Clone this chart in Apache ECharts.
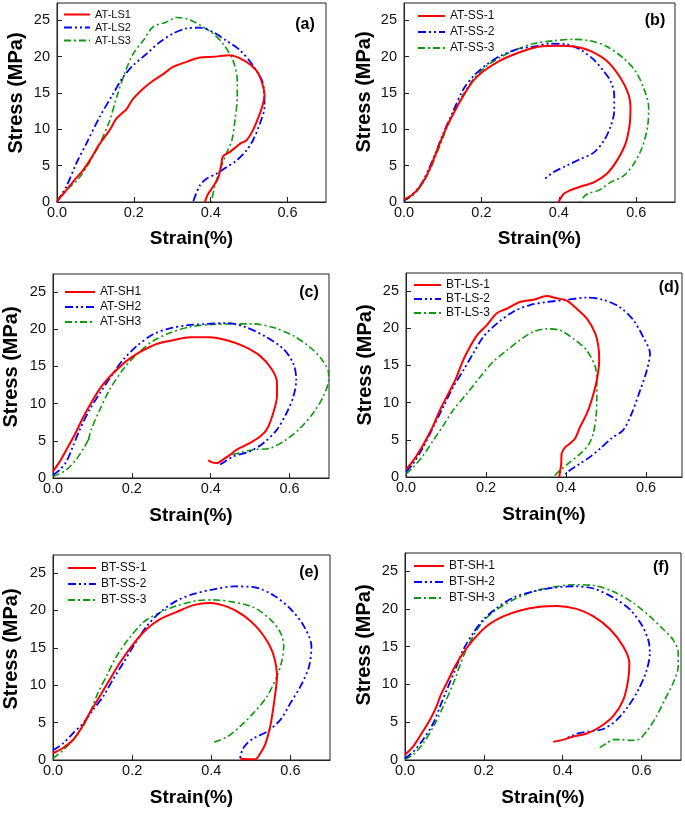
<!DOCTYPE html>
<html><head><meta charset="utf-8">
<script src="https://cdn.jsdelivr.net/npm/echarts@6/dist/echarts.min.js"></script>
<style>html,body{margin:0;padding:0;background:#fff}#c{width:685px;height:814px}</style>
</head><body><div id="c"></div>
<script>
// ---- panel (a)
const namesA = ['AT-LS1','AT-LS2','AT-LS3'];
const atLs1 = [[0,0],[0.003,0.3],[0.016,1.1],[0.042,2.8],[0.068,4.4],[0.085,5.7],[0.111,8.0],[0.137,9.9],[0.155,11.5],[0.181,12.8],[0.198,14.2],[0.224,15.6],[0.25,16.7],[0.276,17.6],[0.302,18.6],[0.337,19.3],[0.372,19.9],[0.406,20.0],[0.45,20.2],[0.493,19.3],[0.519,18.1],[0.532,16.7],[0.54,14.7],[0.536,13.5],[0.528,12.2],[0.51,9.9],[0.493,8.5],[0.476,8.0],[0.45,6.9],[0.432,6.3],[0.428,5.3],[0.42,3.4],[0.406,2.1],[0.393,1.1],[0.385,0]];
const atLs2 = [[0,0],[0.024,2.1],[0.05,5.3],[0.076,8.0],[0.111,11.7],[0.146,14.9],[0.172,17.2],[0.198,18.8],[0.233,20.4],[0.267,22.0],[0.302,23.2],[0.337,23.9],[0.372,24.0],[0.406,23.4],[0.441,22.2],[0.476,20.9],[0.51,18.8],[0.536,16.3],[0.54,13.1],[0.528,10.8],[0.51,8.5],[0.493,7.1],[0.467,5.7],[0.441,4.8],[0.415,3.9],[0.389,3.2],[0.372,2.3],[0.354,0]];
const atLs3 = [[0,0.3],[0.024,1.6],[0.059,3.4],[0.085,5.5],[0.111,8.0],[0.137,11.2],[0.155,14.4],[0.176,17.7],[0.198,20.4],[0.224,22.2],[0.25,24.1],[0.285,24.8],[0.311,25.4],[0.345,25.1],[0.38,24.1],[0.406,23.2],[0.432,21.8],[0.458,19.5],[0.469,16.7],[0.469,14.4],[0.463,11.2],[0.455,8.5],[0.441,6.7],[0.424,4.4],[0.41,2.1],[0.402,0]];
// ---- panel (b)
const namesB = ['AT-SS-1','AT-SS-2','AT-SS-3'];
const atSs1 = [[0,0.4],[0.019,0.9],[0.041,2.1],[0.058,3.6],[0.075,5.7],[0.092,8.0],[0.11,10.3],[0.131,12.5],[0.153,14.6],[0.179,16.7],[0.205,18.0],[0.239,19.2],[0.274,20.1],[0.308,20.8],[0.351,21.4],[0.395,21.5],[0.438,21.4],[0.481,20.8],[0.524,19.4],[0.559,17.1],[0.58,14.8],[0.585,13.0],[0.583,10.7],[0.572,8.0],[0.55,5.7],[0.524,3.9],[0.49,2.7],[0.455,2.1],[0.429,1.6],[0.412,1.1],[0.399,0]];
const atSs2 = [[0,0.2],[0.023,1.1],[0.045,2.5],[0.066,4.8],[0.084,7.1],[0.101,9.4],[0.127,12.5],[0.153,15.5],[0.179,17.3],[0.213,18.9],[0.248,20.1],[0.291,21.0],[0.334,21.4],[0.377,21.8],[0.42,21.7],[0.455,21.0],[0.49,19.6],[0.516,18.0],[0.533,16.7],[0.543,14.8],[0.543,12.5],[0.533,10.3],[0.516,8.4],[0.49,6.8],[0.455,5.9],[0.42,5.0],[0.386,4.1],[0.36,3.0]];
const atSs3 = [[0,0.2],[0.023,0.9],[0.045,2.3],[0.066,4.3],[0.084,6.6],[0.101,8.9],[0.127,12.3],[0.153,14.8],[0.179,16.9],[0.213,18.7],[0.248,19.9],[0.291,21.0],[0.334,21.8],[0.386,22.2],[0.438,22.4],[0.481,22.2],[0.524,21.4],[0.567,19.8],[0.598,18.0],[0.619,15.7],[0.632,13.0],[0.629,10.3],[0.615,7.5],[0.593,5.2],[0.567,3.6],[0.533,2.7],[0.503,1.6],[0.477,1.2],[0.464,0.7],[0.457,0]];
// ---- panel (c)
const namesC = ['AT-SH1','AT-SH2','AT-SH3'];
const atSh1 = [[0,0.9],[0.017,2.2],[0.034,3.8],[0.055,5.8],[0.076,8.1],[0.097,10.1],[0.123,12.3],[0.153,14.1],[0.186,15.7],[0.22,16.9],[0.263,18.0],[0.305,18.5],[0.347,18.9],[0.398,18.9],[0.441,18.5],[0.483,17.7],[0.525,16.4],[0.555,14.6],[0.568,12.8],[0.568,11.0],[0.559,8.8],[0.542,6.5],[0.521,5.4],[0.492,4.5],[0.466,3.8],[0.449,3.1],[0.432,2.5],[0.415,2.0],[0.403,2.1],[0.394,2.4]];
const atSh2 = [[0,0.4],[0.017,1.1],[0.034,2.2],[0.051,4.3],[0.068,6.5],[0.093,9.2],[0.119,11.4],[0.153,14.1],[0.178,15.9],[0.212,17.7],[0.254,19.3],[0.297,20.1],[0.339,20.5],[0.39,20.7],[0.441,20.8],[0.492,20.2],[0.542,18.9],[0.585,17.3],[0.61,15.3],[0.617,13.2],[0.61,11.0],[0.593,8.8],[0.568,6.5],[0.534,4.7],[0.5,3.6],[0.458,2.9],[0.424,1.8]];
const atSh3 = [[0,0.2],[0.017,0.6],[0.034,1.1],[0.059,2.5],[0.081,4.3],[0.092,5.4],[0.089,4.9],[0.097,6.5],[0.119,9.2],[0.144,11.9],[0.178,14.6],[0.212,16.6],[0.254,18.4],[0.297,19.5],[0.347,20.3],[0.398,20.6],[0.458,20.7],[0.508,20.7],[0.559,20.2],[0.61,19.1],[0.653,17.5],[0.682,15.9],[0.699,14.1],[0.699,13.2],[0.686,11.0],[0.661,8.8],[0.627,6.7],[0.593,5.2],[0.551,4.0],[0.508,3.8],[0.475,3.4],[0.449,3.1]];
// ---- panel (d)
const namesD = ['BT-LS-1','BT-LS-2','BT-LS-3'];
const btLs1 = [[0,1.0],[0.018,2.2],[0.035,3.6],[0.052,5.2],[0.068,6.9],[0.085,9.0],[0.102,10.8],[0.123,13.0],[0.143,15.7],[0.16,17.5],[0.177,19.0],[0.202,20.4],[0.227,22.0],[0.252,22.6],[0.285,23.5],[0.318,23.8],[0.352,24.3],[0.377,24.0],[0.402,23.7],[0.427,22.6],[0.452,21.3],[0.473,19.3],[0.481,17.5],[0.483,15.7],[0.477,13.0],[0.464,10.3],[0.452,8.5],[0.435,6.7],[0.423,5.2],[0.41,4.5],[0.398,4.0],[0.389,3.1],[0.388,1.8],[0.383,0]];
const btLs2 = [[0,0.7],[0.018,1.8],[0.043,4.0],[0.068,6.7],[0.093,9.4],[0.118,12.1],[0.143,14.3],[0.168,16.6],[0.193,18.8],[0.227,20.6],[0.268,22.2],[0.31,23.1],[0.352,23.5],[0.402,23.8],[0.452,24.1],[0.493,23.8],[0.535,22.8],[0.568,21.1],[0.593,18.8],[0.61,16.6],[0.602,14.3],[0.585,11.6],[0.564,8.5],[0.543,6.3],[0.514,5.2],[0.485,3.8],[0.46,2.7],[0.435,1.8],[0.41,0.9],[0.398,0.4]];
const btLs3 = [[0,0.4],[0.018,1.3],[0.043,2.9],[0.068,4.9],[0.093,6.9],[0.118,9.0],[0.152,11.2],[0.185,13.4],[0.218,15.5],[0.252,17.0],[0.285,18.4],[0.318,19.5],[0.352,19.9],[0.385,19.7],[0.418,18.6],[0.452,17.0],[0.473,14.8],[0.477,13.0],[0.477,10.3],[0.475,8.1],[0.468,5.8],[0.456,4.3],[0.435,3.1],[0.41,2.0],[0.385,0.9],[0.368,0]];
// ---- panel (e)
const namesE = ['BT-SS-1','BT-SS-2','BT-SS-3'];
const btSs1 = [[0,0.9],[0.025,1.6],[0.051,2.7],[0.072,4.3],[0.093,6.3],[0.118,8.5],[0.144,10.8],[0.169,13.0],[0.203,15.5],[0.237,17.5],[0.27,18.8],[0.313,19.8],[0.355,20.7],[0.397,21.0],[0.44,20.5],[0.482,19.3],[0.516,17.7],[0.541,15.9],[0.558,13.9],[0.566,11.2],[0.562,9.0],[0.556,6.7],[0.549,4.5],[0.537,2.2],[0.524,0.9],[0.511,0.1],[0.49,0.1],[0.473,0.2]];
const btSs2 = [[0,1.3],[0.025,2.2],[0.051,3.6],[0.076,4.9],[0.101,6.7],[0.127,8.5],[0.152,10.8],[0.178,13.0],[0.203,15.2],[0.237,17.9],[0.27,19.7],[0.313,21.3],[0.355,22.2],[0.406,22.8],[0.456,23.2],[0.507,23.1],[0.558,22.0],[0.6,20.2],[0.634,17.9],[0.653,15.2],[0.647,12.5],[0.626,9.9],[0.6,7.6],[0.575,5.4],[0.541,3.8],[0.507,2.9],[0.49,2.2],[0.478,1.3],[0.472,0]];
const btSs3 = [[0,0.2],[0.025,1.3],[0.051,2.7],[0.076,4.5],[0.093,6.3],[0.114,9.0],[0.135,11.2],[0.161,13.9],[0.19,16.1],[0.228,18.4],[0.27,19.7],[0.313,20.6],[0.364,21.3],[0.406,21.4],[0.456,21.1],[0.507,20.4],[0.549,18.8],[0.575,17.0],[0.583,15.2],[0.579,13.4],[0.566,11.2],[0.541,8.5],[0.507,6.3],[0.473,4.5],[0.44,3.1],[0.402,2.3]];
// ---- panel (f)
const namesF = ['BT-SH-1','BT-SH-2','BT-SH-3'];
const btSh1 = [[0,0.7],[0.021,1.8],[0.042,3.5],[0.063,5.3],[0.08,7.1],[0.089,8.4],[0.106,10.2],[0.127,12.4],[0.148,14.2],[0.173,15.9],[0.207,17.7],[0.249,19.0],[0.292,19.8],[0.342,20.3],[0.385,20.4],[0.435,20.0],[0.478,19.0],[0.52,17.3],[0.554,15.0],[0.569,12.8],[0.566,10.6],[0.554,8.0],[0.528,5.8],[0.495,4.4],[0.461,3.5],[0.427,3.1],[0.402,2.7],[0.376,2.4]];
const btSh2 = [[0,0.2],[0.021,1.1],[0.046,2.7],[0.072,4.9],[0.089,7.1],[0.106,9.3],[0.127,11.9],[0.148,14.6],[0.173,16.8],[0.199,18.6],[0.232,20.1],[0.275,21.5],[0.325,22.3],[0.376,22.8],[0.427,23.0],[0.478,22.7],[0.528,21.5],[0.571,19.9],[0.6,17.9],[0.617,15.9],[0.621,14.2],[0.613,11.9],[0.592,9.3],[0.566,7.1],[0.537,5.3],[0.503,4.1],[0.469,3.8],[0.444,3.6],[0.427,3.3],[0.41,2.9]];
const btSh3 = [[0,0.1],[0.021,0.7],[0.046,2.2],[0.072,4.4],[0.097,7.1],[0.123,10.2],[0.148,13.7],[0.173,16.4],[0.199,18.4],[0.232,19.9],[0.275,21.2],[0.325,22.3],[0.376,22.9],[0.427,23.2],[0.478,23.1],[0.528,22.3],[0.579,20.8],[0.621,19.0],[0.655,17.3],[0.68,15.9],[0.693,14.2],[0.693,12.4],[0.68,10.2],[0.659,8.0],[0.638,5.8],[0.613,3.8],[0.592,2.7],[0.571,2.6],[0.549,2.7],[0.528,2.7],[0.511,2.2],[0.49,1.5]];

const panelLabels = ['(a)','(b)','(c)','(d)','(e)','(f)'];
const xTitle = 'Strain(%)';
const yTitle = 'Stress (MPa)';

const panels = [
  {names:namesA, data:[atLs1,atLs2,atLs3], grid:{left:57,top:3,width:269,height:199}, xmax:0.7, leg:{left:63,top:9,gap:2,fs:11,w:26}, lab:[305,25], yt:[16,93], xg:27},
  {names:namesB, data:[atSs1,atSs2,atSs3], grid:{left:404,top:3,width:271,height:199}, xmax:0.7, leg:{left:417,top:10,gap:4,fs:12,w:27}, lab:[655,21], yt:[364,92], xg:27},
  {names:namesC, data:[atSh1,atSh2,atSh3], grid:{left:53,top:274,width:276,height:204}, xmax:0.7, leg:{left:64,top:286,gap:3,fs:12,w:30}, lab:[309,293], yt:[11,367], xg:28},
  {names:namesD, data:[btLs1,btLs2,btLs3], grid:{left:406,top:273,width:276,height:204}, xmax:0.69, leg:{left:413,top:279,gap:2,fs:12,w:27}, lab:[669,288], yt:[365,365], xg:28},
  {names:namesE, data:[btSs1,btSs2,btSs3], grid:{left:53,top:555,width:277,height:205}, xmax:0.7, leg:{left:67,top:562,gap:4,fs:12,w:28}, lab:[309,573], yt:[11,649], xg:28},
  {names:namesF, data:[btSh1,btSh2,btSh3], grid:{left:405,top:553,width:276,height:207}, xmax:0.7, leg:{left:413,top:560,gap:4,fs:12,w:30}, lab:[661,568], yt:[364,645], xg:28}
];

const colors = ['#ff0000','#0000ff','#0a9a0a'];
const styles = [
  {width:2, type:'solid'},
  {width:1.8, type:[8,3,2,3,2,3]},
  {width:1.6, type:[7,3,2,3]}
];
const FONT = 'Liberation Sans, Arial, Helvetica, sans-serif';

const grid=[], xAxis=[], yAxis=[], series=[], legend=[], graphic=[];
panels.forEach((p,i)=>{
  grid.push(Object.assign({show:true, borderColor:'#222', borderWidth:1, backgroundColor:'transparent'}, p.grid));
  xAxis.push({type:'value', gridIndex:i, min:0, max:p.xmax, interval:0.2,
    name:xTitle, nameLocation:'middle', nameGap:p.xg,
    nameTextStyle:{fontSize:19, fontWeight:'bold', color:'#000', fontFamily:FONT},
    axisLine:{show:true, lineStyle:{color:'#222', width:1}},
    axisTick:{show:true, inside:true, length:5, lineStyle:{color:'#222'}},
    axisLabel:{fontSize:14.5, color:'#111', fontFamily:FONT, margin:3, showMaxLabel:false,
      formatter:v=> (Math.abs(v*5-Math.round(v*5))<1e-6 ? v.toFixed(1) : '')},
    splitLine:{show:false}});
  yAxis.push({type:'value', gridIndex:i, min:0, max:27.4, interval:5,
    axisLine:{show:true, lineStyle:{color:'#222', width:1}},
    axisTick:{show:true, inside:true, length:5, lineStyle:{color:'#222'}},
    axisLabel:{fontSize:14.5, color:'#111', fontFamily:FONT, margin:7, showMaxLabel:false,
      formatter:v=> (v%5===0 ? String(v) : '')},
    splitLine:{show:false}});
  p.names.forEach((nm,k)=>{
    series.push({type:'line', name:nm, xAxisIndex:i, yAxisIndex:i, data:p.data[k],
      showSymbol:false, symbol:'none', smooth:0.3, clip:true,
      lineStyle:Object.assign({color:colors[k]}, styles[k]), itemStyle:{color:colors[k]}, z:3-k});
  });
  legend.push({data:p.names.map(n=>({name:n, itemStyle:{opacity:0}})), orient:'vertical', left:p.leg.left, top:p.leg.top, padding:0,
    itemGap:p.leg.gap, itemWidth:p.leg.w, itemHeight:12,
    itemStyle:{opacity:0},
    textStyle:{fontSize:p.leg.fs, color:'#111', fontFamily:FONT},
    selectedMode:false});
  graphic.push({type:'text', x:p.lab[0], y:p.lab[1], style:{text:panelLabels[i], font:'bold 16px '+FONT, fill:'#000', textAlign:'center', textVerticalAlign:'middle'}});
  graphic.push({type:'text', x:p.yt[0], y:p.yt[1], rotation:Math.PI/2, style:{text:yTitle, font:'bold 20px '+FONT, fill:'#000', textAlign:'center', textVerticalAlign:'middle'}});
});

const chart = echarts.init(document.getElementById('c'), null, {renderer:'canvas'});
chart.setOption({animation:false, backgroundColor:'#fff', grid, xAxis, yAxis, series, legend, graphic});
</script>
</body></html>
